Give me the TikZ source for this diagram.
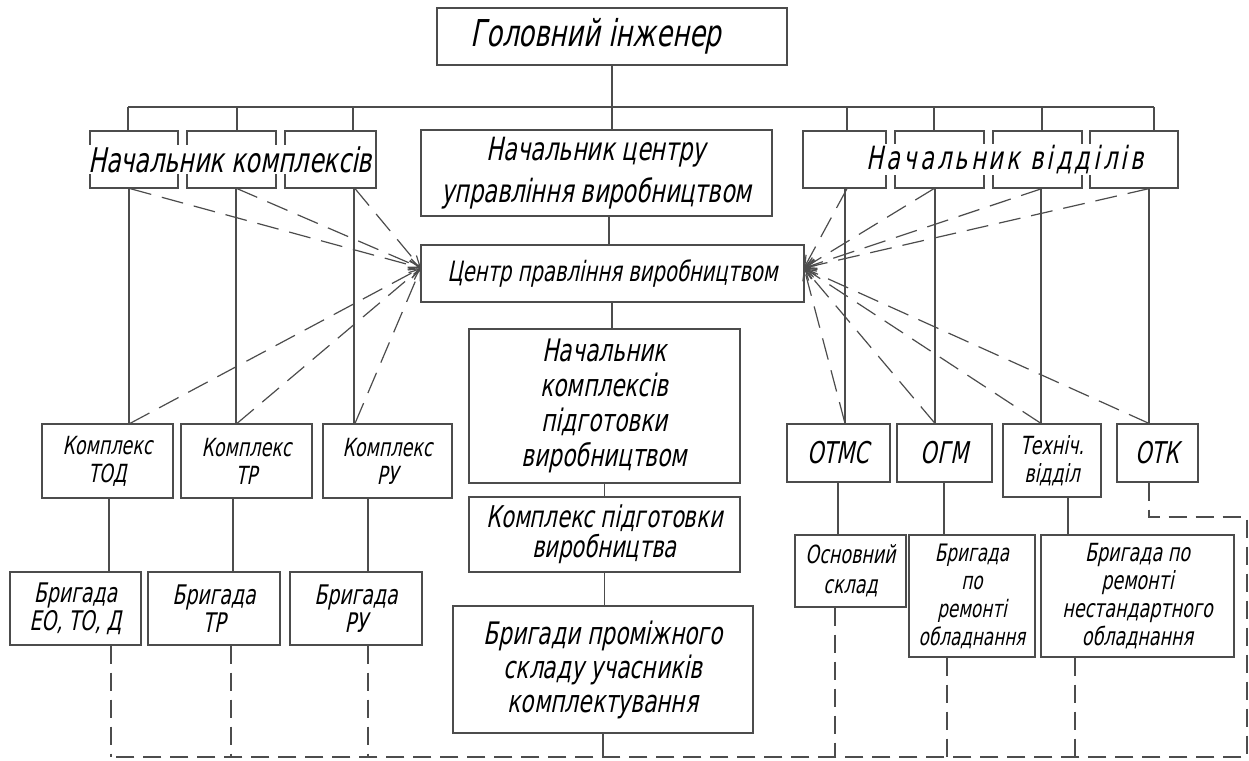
\documentclass[tikz,border=0pt]{standalone}
\usepackage{fontspec}
\newfontfamily\gost{DejaVu Sans}[FakeStretch=0.7,FakeSlant=0.2]
\usetikzlibrary{arrows.meta}
\definecolor{lnc}{gray}{0.3}
\begin{document}
\begin{tikzpicture}[x=1pt,y=-1pt,line width=1.2pt,
  bx/.style 2 args={draw=lnc,minimum width=#1,minimum height=#2,inner sep=0pt,align=center},
  fnt/.style 2 args={font=\gost\fontsize{#1}{#2}\selectfont},
  sl/.style={draw=lnc},
  dsh/.style={draw=lnc,dash pattern=on 18pt off 9pt},
  arr/.style={draw=lnc,dash pattern=on 22pt off 11pt,-{Straight Barb[length=11pt,width=9pt]}},
  lbl/.style={fill=white,inner sep=1pt}]
\useasboundingbox (0,0) rectangle (1249,760);

% centre column
\node[bx={350pt}{57pt},fnt={37}{40}] (gi) at (612,36.5) {Головний інженер\hspace*{32pt}};
\node[bx={351pt}{86pt},fnt={32}{42}] (nc) at (596.5,173) {Начальник центру\\управління виробництвом};
\node[bx={383pt}{57pt},fnt={28}{30}] (cp) at (612.5,273.5) {Центр правління виробництвом};
\node[bx={271pt}{154pt},fnt={31}{35}] (nk) at (604.5,406) {Начальник\\комплексів\\підготовки\\виробництвом};
\node[bx={271pt}{75pt},fnt={30}{30}] (kp) at (604.5,534.5) {Комплекс підготовки\\виробництва};
\node[bx={300pt}{127pt},fnt={31}{34}] (bp) at (603,669.5) {Бригади проміжного\\складу учасників\\комплектування};

% left top group
\node[bx={88pt}{57pt}] (lk1) at (134,159.5) {};
\node[bx={89pt}{57pt}] (lk2) at (231.5,159.5) {};
\node[bx={91pt}{57pt}] (lk3) at (330.5,159.5) {};
\node[lbl,fnt={34}{36}] (lkt) at (230,159.5) {Начальник комплексів};

% right top group
\node[bx={83pt}{57pt}] (rv1) at (844.5,159.5) {};
\node[bx={89pt}{57pt}] (rv2) at (939.5,159.5) {};
\node[bx={89pt}{57pt}] (rv3) at (1037.5,159.5) {};
\node[bx={88pt}{57pt}] (rv4) at (1134,159.5) {};
\node[lbl,font=\gost\fontsize{32}{34}\selectfont\addfontfeature{LetterSpace=10}] (rvt) at (1005,159.5) {Начальник відділів};

% left lower
\node[bx={131pt}{74pt},fnt={25}{28}] (kt) at (107.5,461) {Комплекс\\ТОД};
\node[bx={131pt}{74pt},fnt={25}{28}] (ktr) at (246.5,461) {Комплекс\\ТР};
\node[bx={129pt}{74pt},fnt={25}{28}] (kru) at (387.5,461) {Комплекс\\РУ};
\node[bx={131pt}{73pt},fnt={27}{28}] (b1) at (75.5,608.5) {Бригада\\ЕО, ТО, Д};
\node[bx={132pt}{73pt},fnt={27}{28}] (b2) at (214,608.5) {Бригада\\ТР};
\node[bx={132pt}{73pt},fnt={27}{28}] (b3) at (356,608.5) {Бригада\\РУ};

% right lower
\node[bx={103pt}{58pt},fnt={30}{32}] (otmc) at (838.5,453) {ОТМС};
\node[bx={95pt}{58pt},fnt={30}{32}] (ogm) at (944.5,453) {ОГМ};
\node[bx={98pt}{73pt},fnt={25}{28}] (tech) at (1052,460.5) {Техніч.\\відділ};
\node[bx={81pt}{58pt},fnt={30}{32}] (otk) at (1157.5,453) {ОТК};
\node[bx={111pt}{72pt},fnt={25}{30}] (os) at (850.5,571) {Основний\\склад};
\node[bx={126pt}{122pt},fnt={24}{28}] (bro) at (972,596) {Бригада\\по\\ремонті\\обладнання};
\node[bx={193pt}{122pt},fnt={25}{28}] (brn) at (1137.5,596) {Бригада по\\ремонті\\нестандартного\\обладнання};

% coordinates
\coordinate (bl) at (128,107);
\coordinate (br) at (1154,107);
\coordinate (bot) at (111,757);
\coordinate (c1) at (1247,517);
\coordinate (c2) at (1247,757);
\coordinate (cl) at (421,268);
\coordinate (cr) at (804,268);

% bus
\draw[sl] (bl) -- (br);
\draw[sl] (gi.south) -- (gi.south |- nc.north);
\draw[sl] (609,0 |- nc.south) -- (609,0 |- cp.north);
\draw[sl] (612,0 |- cp.south) -- (612,0 |- nk.north);
\draw[sl] (nk.south) -- (nk.south |- kp.north);
\draw[sl] (kp.south) -- (kp.south |- bp.north);
\draw[sl] (bp.south) -- (bp.south |- bot);

% left solid
\draw[sl] (bl) -- (128,0 |- lk1.north);
\draw[sl] (237,107) -- (237,0 |- lk2.north);
\draw[sl] (353,107) -- (353,0 |- lk3.north);
\draw[sl] (129,0 |- lk1.south) -- (129,0 |- kt.north);
\draw[sl] (236,0 |- lk2.south) -- (236,0 |- ktr.north);
\draw[sl] (354,0 |- lk3.south) -- (354,0 |- kru.north);
\draw[sl] (109,0 |- kt.south) -- (109,0 |- b1.north);
\draw[sl] (233,0 |- ktr.south) -- (233,0 |- b2.north);
\draw[sl] (368,0 |- kru.south) -- (368,0 |- b3.north);

% right solid
\draw[sl] (847,107) -- (847,0 |- rv1.north);
\draw[sl] (934,107) -- (934,0 |- rv2.north);
\draw[sl] (1042,107) -- (1042,0 |- rv3.north);
\draw[sl] (br) -- (1154,0 |- rv4.north);
\draw[sl] (845,0 |- rv1.south) -- (845,0 |- otmc.north);
\draw[sl] (935,0 |- rv2.south) -- (935,0 |- ogm.north);
\draw[sl] (1041,0 |- rv3.south) -- (1041,0 |- tech.north);
\draw[sl] (1149,0 |- rv4.south) -- (1149,0 |- otk.north);
\draw[sl] (838,0 |- otmc.south) -- (838,0 |- os.north);
\draw[sl] (944,0 |- ogm.south) -- (944,0 |- bro.north);
\draw[sl] (1068,0 |- tech.south) -- (1068,0 |- brn.north);

% dashed bottom links
\draw[dsh] (111,0 |- b1.south) -- (111,757);
\draw[dsh] (231,0 |- b2.south) -- (231,757);
\draw[dsh] (368,0 |- b3.south) -- (368,757);
\draw[dsh] (835,0 |- os.south) -- (835,757);
\draw[dsh] (947,0 |- bro.south) -- (947,757);
\draw[dsh] (1075,0 |- brn.south) -- (1075,757);
\draw[dsh] (1149,0 |- otk.south) -- (1149,0 |- c1) -- (c1) -- (c2) -- (bot);

% dashed arrows to centre
\draw[arr] (130,0 |- lk1.south) -- (cl);
\draw[arr] (237,0 |- lk2.south) -- (cl);
\draw[arr] (355,0 |- lk3.south) -- (cl);
\draw[arr] (130,0 |- kt.north) -- (cl);
\draw[arr] (237,0 |- ktr.north) -- (cl);
\draw[arr] (355,0 |- kru.north) -- (cl);
\draw[arr] (847,0 |- rv1.south) -- (cr);
\draw[arr] (934,0 |- rv2.south) -- (cr);
\draw[arr] (1042,0 |- rv3.south) -- (cr);
\draw[arr] (1149,0 |- rv4.south) -- (cr);
\draw[arr] (845,0 |- otmc.north) -- (cr);
\draw[arr] (935,0 |- ogm.north) -- (cr);
\draw[arr] (1041,0 |- tech.north) -- (cr);
\draw[arr] (1149,0 |- otk.north) -- (cr);
\end{tikzpicture}
\end{document}
